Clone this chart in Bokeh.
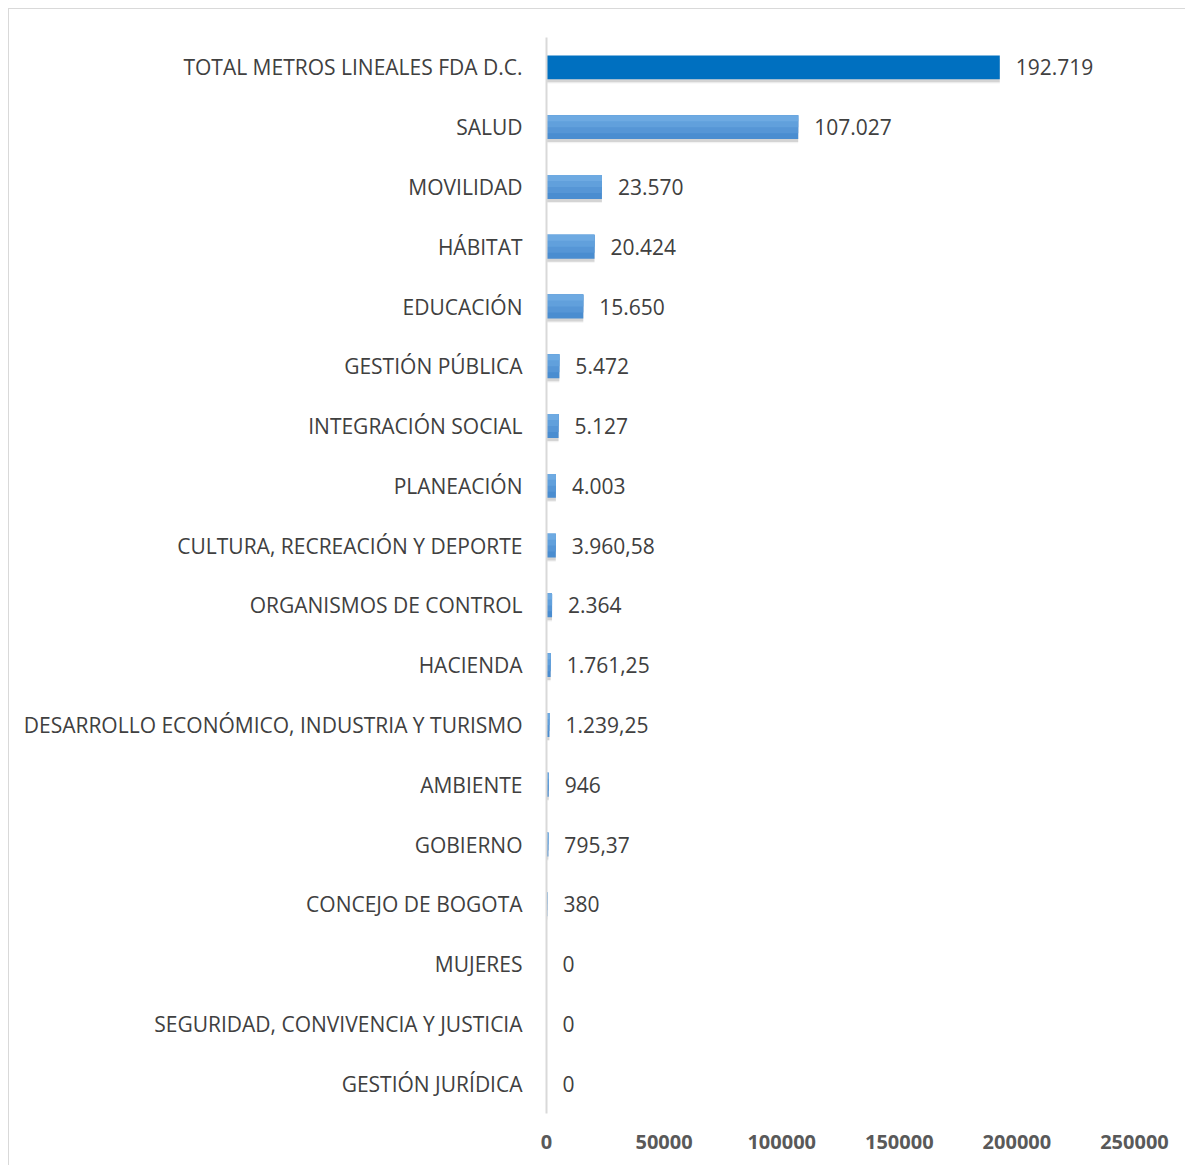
from bokeh.plotting import figure
from bokeh.models import FactorRange, Range1d, FixedTicker, ColumnDataSource, NumeralTickFormatter
from bokeh.transform import dodge
from bokeh.core.properties import value
from bokeh.embed import file_html
from bokeh.resources import INLINE

categories = ["TOTAL METROS LINEALES FDA D.C.", "SALUD", "MOVILIDAD", "HÁBITAT", "EDUCACIÓN",
              "GESTIÓN PÚBLICA", "INTEGRACIÓN SOCIAL", "PLANEACIÓN", "CULTURA, RECREACIÓN Y DEPORTE",
              "ORGANISMOS DE CONTROL", "HACIENDA", "DESARROLLO ECONÓMICO, INDUSTRIA Y TURISMO",
              "AMBIENTE", "GOBIERNO", "CONCEJO DE BOGOTA", "MUJERES",
              "SEGURIDAD, CONVIVENCIA Y JUSTICIA", "GESTIÓN JURÍDICA"]
values = [192719, 107027, 23570, 20424, 15650, 5472, 5127, 4003, 3960.58, 2364,
          1761.25, 1239.25, 946, 795.37, 380, 0, 0, 0]
value_labels = ["192.719", "107.027", "23.570", "20.424", "15.650", "5.472", "5.127", "4.003",
                "3.960,58", "2.364", "1.761,25", "1.239,25", "946", "795,37", "380", "0", "0", "0"]
x_ticks = [0, 50000, 100000, 150000, 200000, 250000]

FONT = "Open Sans"

src = ColumnDataSource(dict(cat=categories, val=values, lab=value_labels))
total_src = ColumnDataSource(dict(cat=categories[:1], val=values[:1]))
rest_src = ColumnDataSource(dict(cat=categories[1:], val=values[1:]))

p = figure(width=1177, height=1157, output_backend="svg", toolbar_location=None,
           y_range=FactorRange(*reversed(categories)), x_range=Range1d(0, 250000),
           min_border_left=537, min_border_right=52, min_border_top=28, min_border_bottom=53)
p.styles = {"margin-left": "8px", "margin-top": "8px",
            "border-left": "1px solid #d9d9d9", "border-top": "1px solid #d9d9d9"}
p.outline_line_color = None
p.xgrid.visible = False
p.ygrid.visible = False

BAR_H = 0.4
# soft shadow
p.hbar(y=dodge("cat", -0.05, range=p.y_range), right="val", left=0, height=BAR_H, source=src,
       fill_color="#000000", fill_alpha=0.12, line_color=None)
p.hbar(y=dodge("cat", -0.07, range=p.y_range), right="val", left=0, height=BAR_H, source=src,
       fill_color="#000000", fill_alpha=0.05, line_color=None)
# total bar
p.hbar(y="cat", right="val", left=0, height=BAR_H, source=total_src,
       fill_color="#0070C0", line_color=None)
# gradient bars: base + lighter overlays anchored at the top edge
layers = [(1.0, "#4a8dd0"), (0.75, "#5696d6"), (0.5, "#61a0dc"), (0.25, "#6eaae2")]
for frac, c in layers:
    hh = BAR_H * frac
    off = BAR_H / 2 - hh / 2
    p.hbar(y=dodge("cat", off, range=p.y_range), right="val", left=0, height=hh,
           source=rest_src, fill_color=c, line_color=None)

p.text(x="val", y="cat", text="lab", source=src, x_offset=16, text_baseline="middle",
       text_align="left", text_font=value(FONT), text_font_size="21px", text_color="#404040")

xa = p.xaxis[0]
xa.ticker = FixedTicker(ticks=x_ticks)
xa.formatter = NumeralTickFormatter(format="0")
xa.axis_line_color = None
xa.major_tick_line_color = None
xa.minor_tick_line_color = None
xa.major_label_text_font = FONT
xa.major_label_text_font_style = "bold"
xa.major_label_text_font_size = "20px"
xa.major_label_text_color = "#595959"
xa.major_label_standoff = 15

ya = p.yaxis[0]
ya.axis_line_color = "#d9d9d9"
ya.axis_line_width = 2
ya.major_tick_line_color = None
ya.minor_tick_line_color = None
ya.major_label_text_font = FONT
ya.major_label_text_font_size = "21px"
ya.major_label_text_color = "#404040"
ya.major_label_standoff = 18

open("out.html", "w").write(file_html(p, INLINE))
